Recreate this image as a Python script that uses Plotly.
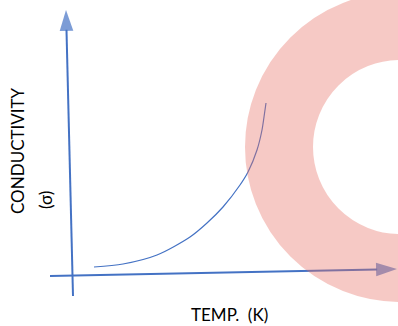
import plotly.graph_objects as go

# Chart values (pixel-like units, y grows downward)
curve_x = [94, 123, 157, 190, 207, 223, 240, 248, 257, 262, 264, 266]
curve_y = [267, 264, 255, 237, 223, 207, 185, 172, 150, 130, 117, 103]

y_arrow_x = [73, 66]
y_arrow_y = [296, 10]
x_arrow_x = [50, 397]
x_arrow_y = [276, 269]

ring_center = (400, 147)
ring_r_inner = 87
ring_r_outer = 155

y_label = "CONDUCTIVITY"
y_unit = "(σ)"
x_label = "TEMP.  (K)"

W, H = 398, 326
blue = '#4472C4'
font = dict(family='Lato, Liberation Sans, sans-serif', size=17, color='black')

fig = go.Figure()

# axes drawn as arrows
for xs, ys in [(y_arrow_x, y_arrow_y), (x_arrow_x, x_arrow_y)]:
    fig.add_trace(go.Scatter(
        x=xs, y=ys, mode='lines+markers',
        line=dict(color=blue, width=2),
        marker=dict(symbol='arrow', size=[0, 22], angleref='previous',
                    color=blue, line=dict(width=0)),
        cliponaxis=False, hoverinfo='skip'))

# the curve
fig.add_trace(go.Scatter(
    x=curve_x, y=curve_y, mode='lines',
    line=dict(color=blue, width=1.2, shape='spline', smoothing=0.8),
    hoverinfo='skip'))

# pink ring on top
r_mid = (ring_r_inner + ring_r_outer) / 2
fig.add_shape(type='circle', xref='x', yref='y',
              x0=ring_center[0] - r_mid, x1=ring_center[0] + r_mid,
              y0=ring_center[1] - r_mid, y1=ring_center[1] + r_mid,
              line=dict(color='rgb(232,112,100)', width=ring_r_outer - ring_r_inner),
              opacity=0.37, layer='above')

fig.add_annotation(x=17, y=151, text=y_label, textangle=-90, showarrow=False, font=font)
fig.add_annotation(x=45, y=200, text=y_unit, textangle=-90, showarrow=False, font=font)
fig.add_annotation(x=229, y=314, text=x_label, showarrow=False, font=font)

fig.update_layout(
    width=W, height=H,
    margin=dict(l=0, r=0, t=0, b=0),
    paper_bgcolor='white', plot_bgcolor='white',
    showlegend=False,
    xaxis=dict(range=[0, W], visible=False, fixedrange=True),
    yaxis=dict(range=[H, 0], visible=False, fixedrange=True))

# page body has a default 8px margin; drop it so the figure fills the window
fig.write_html("out.html", config={'displayModeBar': False},
               post_script="document.body.style.margin='0';"
                           "document.body.style.overflow='hidden';")
